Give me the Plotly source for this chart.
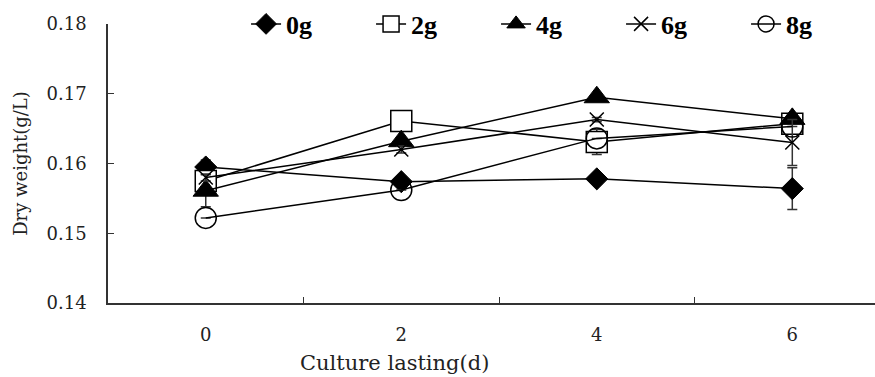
import plotly.graph_objects as go

# Culture time (days) on the category axis
days = ["0", "2", "4", "6"]

# Dry weight (g/L) for each dose
dw_0g = [0.1595, 0.1574, 0.1578, 0.1564]
dw_2g = [0.1575, 0.1661, 0.1631, 0.1657]
dw_4g = [0.1561, 0.1632, 0.1695, 0.1664]
dw_6g = [0.1580, 0.1620, 0.1663, 0.1630]
dw_8g = [0.1522, 0.1562, 0.1636, 0.1653]

# Standard deviations
sd_0g = [0.0010, 0.0005, 0.0005, 0.0030]
sd_2g = [0.0005, 0.0005, 0.0018, 0.0005]
sd_4g = [0.0023, 0.0005, 0.0005, 0.0005]
sd_6g = [0.0005, 0.0005, 0.0003, 0.0033]
sd_8g = [0.0, 0.0, 0.0, 0.0]

series_names = ["0g", "2g", "4g", "6g", "8g"]
y_ticks = [0.14, 0.15, 0.16, 0.17, 0.18]

styles = [
    dict(symbol="diamond", size=17, color="black", line=dict(color="black", width=1)),
    dict(symbol="square", size=21, color="white", line=dict(color="black", width=1.5)),
    dict(symbol="triangle-up", size=22, color="black", line=dict(color="black", width=1)),
    dict(symbol="x-thin-open", size=14, color="black", line=dict(color="black", width=1.5)),
    dict(symbol="circle-open", size=21, color="black", line=dict(color="black", width=1.5)),
]

fig = go.Figure()
for name, ys, sd, mk in zip(
    series_names,
    [dw_0g, dw_2g, dw_4g, dw_6g, dw_8g],
    [sd_0g, sd_2g, sd_4g, sd_6g, sd_8g],
    styles,
):
    fig.add_trace(go.Scatter(
        x=days, y=ys, name=name, mode="lines+markers",
        line=dict(color="black", width=1.5),
        marker=mk,
        error_y=dict(type="data", array=sd, visible=True,
                     color="#333333", thickness=1.5, width=5),
    ))

tick_font = dict(family="DejaVu Serif", size=18, color="#222222")

fig.update_layout(
    width=875, height=377,
    margin=dict(l=108, r=0, t=20, b=74),
    paper_bgcolor="white", plot_bgcolor="white",
    showlegend=True,
    legend=dict(
        orientation="h", x=0.18, xanchor="left", y=1.0, yanchor="middle",
        font=dict(family="Liberation Serif", size=26, color="black", weight="bold"),
        entrywidth=80, entrywidthmode="pixels",
        bgcolor="rgba(0,0,0,0)", itemsizing="trace",
    ),
    xaxis=dict(
        type="category", range=[-0.5, 3.423],
        showline=True, linecolor="#333333", linewidth=1.5,
        ticks="inside", tickson="boundaries", ticklen=6, tickcolor="#333333",
        showgrid=False, zeroline=False,
        tickfont=tick_font, ticklabelstandoff=15,
    ),
    yaxis=dict(
        range=[0.14, 0.18], tickvals=y_ticks, tickformat=".2f",
        showline=True, linecolor="#333333", linewidth=1.5,
        ticks="inside", ticklen=6, tickcolor="#333333",
        showgrid=False, zeroline=False,
        tickfont=tick_font, ticklabelstandoff=16,
        title=dict(text="Dry weight(g/L)",
                   font=dict(family="DejaVu Serif", size=18, color="#222222"),
                   standoff=14),
    ),
    annotations=[dict(
        text="Culture lasting(d)", xref="paper", yref="paper",
        x=0.374, y=-0.215, xanchor="center", yanchor="middle", showarrow=False,
        font=dict(family="DejaVu Serif", size=21, color="#222222"),
    )],
)

fig.write_html("out.html")
